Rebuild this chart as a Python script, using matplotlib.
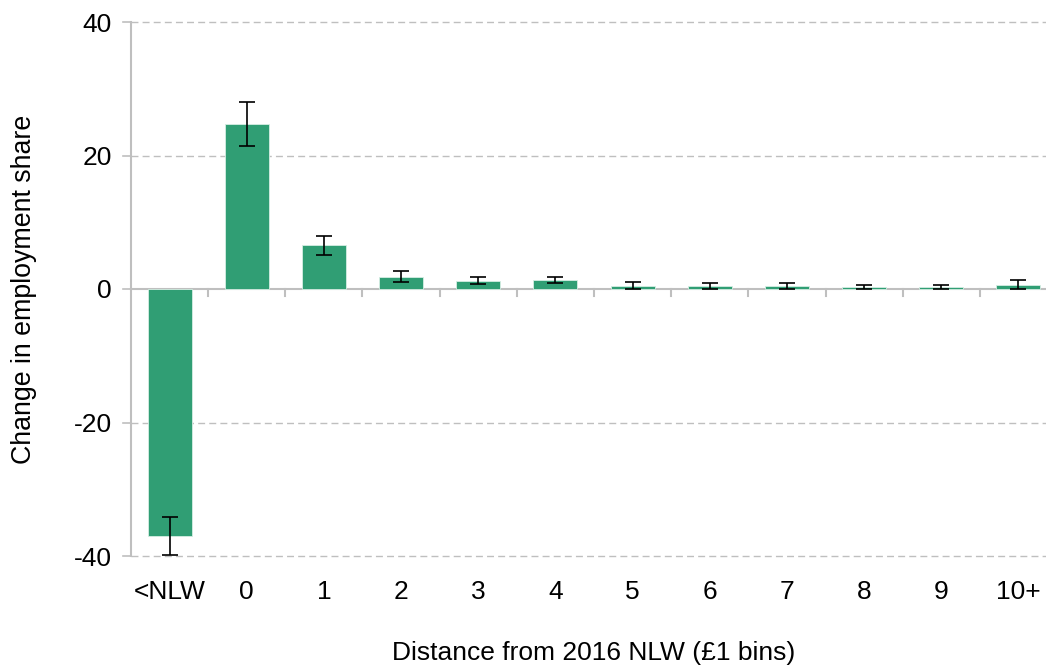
import matplotlib
matplotlib.use("Agg")
import matplotlib.pyplot as plt
import numpy as np

plt.rcParams["font.family"] = ["Liberation Sans", "DejaVu Sans"]

# Distance-from-NLW bins and estimated change in employment share
categories = ["<NLW", "0", "1", "2", "3", "4", "5", "6", "7", "8", "9", "10+"]
values = [-37.0, 24.7, 6.6, 1.8, 1.2, 1.35, 0.45, 0.4, 0.4, 0.25, 0.25, 0.6]
ci_low = [-39.9, 21.4, 5.1, 1.0, 0.75, 0.9, 0.05, 0.05, 0.05, 0.0, 0.0, 0.0]
ci_high = [-34.2, 28.0, 7.9, 2.7, 1.8, 1.8, 1.0, 0.85, 0.9, 0.6, 0.6, 1.35]
y_ticks = [-40, -20, 0, 20, 40]

GREEN = "#309E74"
GRAY = "#BFBFBF"

W, H = 1046, 666
fig = plt.figure(figsize=(W / 100, H / 100), dpi=100)
ax = fig.add_axes([131 / W, (H - 556) / H, (1057 - 131) / W, (556 - 22) / H])

x = np.arange(len(categories))
vals = np.array(values)
yerr = np.vstack([vals - np.array(ci_low), np.array(ci_high) - vals])

ax.bar(x, vals, width=0.57, color=GREEN, edgecolor="#D6EEE4", linewidth=0.6, zorder=3)
ax.errorbar(x, vals, yerr=yerr, fmt="none", ecolor="black", elinewidth=1.2,
            capsize=6, capthick=1.2, zorder=4)

ax.set_xlim(-0.5, len(categories) - 0.5)
ax.set_ylim(-40, 40)
ax.set_yticks(y_ticks)
ax.set_yticklabels([str(t) for t in y_ticks])

# dashed horizontal gridlines; zero gets a solid category axis line
tick_len = 8 / 77.2  # short outward tick, in category units
for t in y_ticks:
    if t != 0:
        ax.axhline(t, color=GRAY, lw=1.0, dashes=(5, 3), zorder=1, clip_on=False)
    ax.plot([-0.5 - tick_len, -0.5], [t, t], color=GRAY, lw=1.2,
            clip_on=False, zorder=1)

ax.axhline(0, color=GRAY, lw=1.5, zorder=2, clip_on=False)
boundaries = np.arange(len(categories)) + 0.5
drop = 7 / 6.675  # boundary tick depth below zero, in value units
for b in boundaries:
    ax.plot([b, b], [0, -drop], color=GRAY, lw=1.5, zorder=2, clip_on=False)

for side in ["top", "right", "bottom"]:
    ax.spines[side].set_visible(False)
ax.spines["left"].set_color(GRAY)
ax.spines["left"].set_linewidth(1.5)

ax.tick_params(axis="y", length=0, pad=14, labelsize=19, labelcolor="black")
ax.set_xticks(x)
ax.set_xticklabels(categories)
ax.tick_params(axis="x", length=0, pad=17, labelsize=19, labelcolor="black")

ax.set_xlabel("Distance from 2016 NLW (£1 bins)", fontsize=19, labelpad=27)
ax.set_ylabel("Change in employment share", fontsize=19.3, labelpad=26)

fig.savefig("out.png", dpi=100)
